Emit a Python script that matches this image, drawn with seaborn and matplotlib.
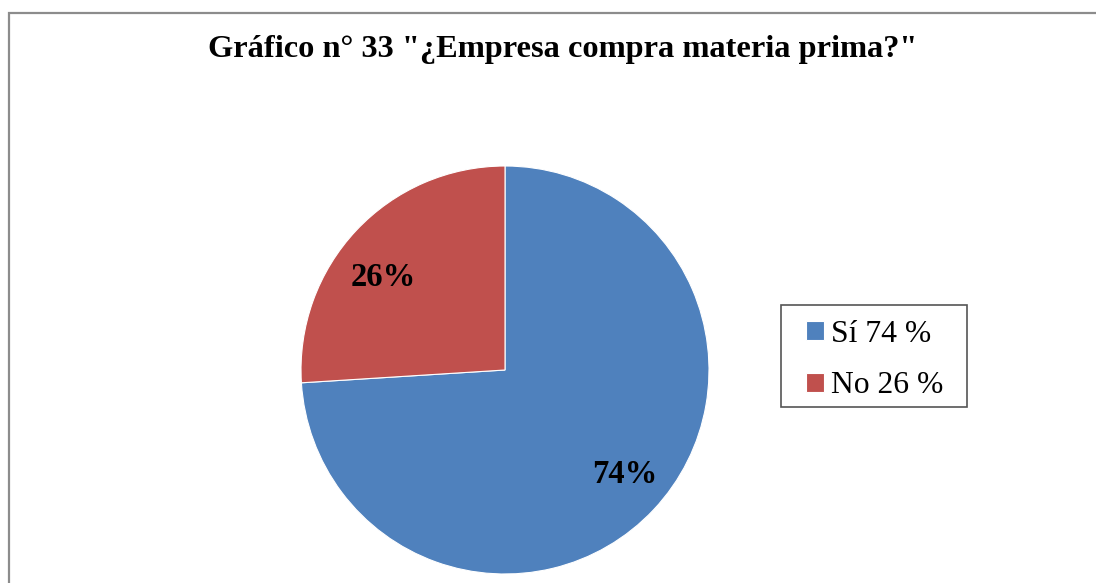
import matplotlib
matplotlib.use("Agg")
import matplotlib.pyplot as plt
from matplotlib.patches import Rectangle
import seaborn as sns

title = 'Gráfico n° 33 "¿Empresa compra materia prima?"'
categories = ["Sí 74 %", "No 26 %"]
values = [74, 26]
colors = ["#4F81BD", "#C0504D"]

sns.set_theme(style="white")
plt.rcParams["font.family"] = ["Liberation Serif", "DejaVu Serif"]
plt.rcParams["text.color"] = "black"

W, H = 1096, 583
fig = plt.figure(figsize=(W / 100, H / 100), dpi=100)
fig.patch.set_facecolor("white")

# outer chart frame (top and left edges visible, the rest runs off the canvas)
fig.add_artist(Rectangle((9 / W, -0.05), 1.2, (H - 13) / H + 0.05,
                         transform=fig.transFigure, fill=False,
                         edgecolor="#8c8c8c", linewidth=1.6))

cx, cy, r = 505, 370, 204
ax = fig.add_axes([(cx - r) / W, (H - cy - r) / H, 2 * r / W, 2 * r / H])
wedges, texts, autotexts = ax.pie(
    values, colors=colors, startangle=90, counterclock=False,
    autopct=lambda p: f"{p:.0f}%", pctdistance=0.76,
    wedgeprops=dict(edgecolor="white", linewidth=0.8),
    textprops=dict(fontsize=23.5, fontweight="bold", color="black"))
# data-label placement inside each slice
label_pos = [(0.585, -0.51), (-0.595, 0.455)]
for t, pos in zip(autotexts, label_pos):
    t.set_position(pos)
ax.set_xlim(-1, 1)
ax.set_ylim(-1, 1)
ax.set_aspect("equal")
ax.axis("off")

fig.text(563 / W, 1 - 50 / H, title, ha="center", va="center",
         fontsize=23.3, fontweight="bold", color="black")

# legend box
fig.add_artist(Rectangle((781 / W, 1 - 407 / H), 186 / W, 102 / H,
                         transform=fig.transFigure, facecolor="white",
                         edgecolor="#555555", linewidth=1.2, zorder=2))
leg = fig.legend(wedges, categories, loc="center",
                 bbox_to_anchor=(875 / W, 1 - 360 / H),
                 fontsize=22.8, frameon=False,
                 handlelength=0.55, handleheight=0.55, handletextpad=0.25,
                 labelspacing=0.72, borderpad=0, borderaxespad=0)
leg.set_zorder(3)

fig.savefig("out.png", dpi=100, facecolor="white")
